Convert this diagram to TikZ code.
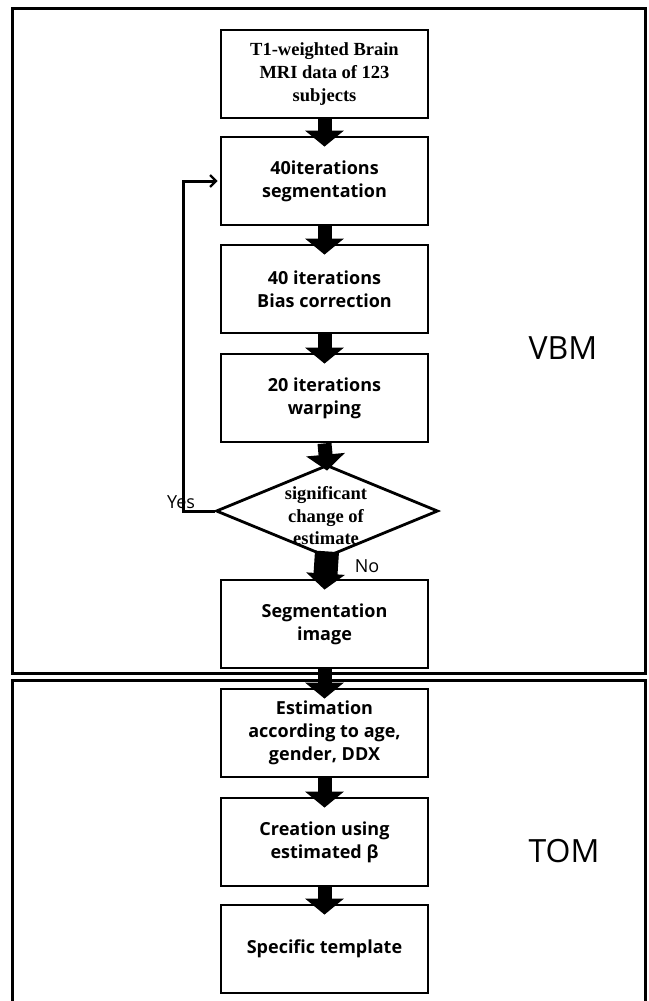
\documentclass[tikz,border=0pt]{standalone}
\usepackage{fontspec}
\setmainfont{Liberation Serif}
\setsansfont{Open Sans}
\usetikzlibrary{arrows.meta,shapes.geometric}
\begin{document}
\begin{tikzpicture}[x=1pt,y=-1pt,
  box/.style={draw, line width=2.8pt, minimum width=207pt, minimum height=88pt, inner sep=0pt, align=center, font=\sffamily\bfseries\fontsize{18}{23}\selectfont},
  serifbox/.style={box, font=\rmfamily\bfseries\fontsize{18.5}{23}\selectfont},
  frameline/.style={line width=3pt},
  blockarrow/.style={line width=14pt, -{Triangle[width=38pt,length=16pt]}},
  widearrow/.style={line width=24pt, -{Triangle[width=38pt,length=16pt]}},
  loopline/.style={line width=3pt, -{Straight Barb[length=6pt,width=12pt,line width=2.2pt]}},
  biglabel/.style={font=\sffamily\fontsize{32}{36}\selectfont},
  smalllabel/.style={font=\sffamily\fontsize{18}{20}\selectfont}
]
\useasboundingbox (0,0) rectangle (648,1001);
\fill[white] (0,0) rectangle (648,1001);

% frames
\draw[frameline] (12,8) rectangle (645,673);
\draw[frameline] (12,1001) -- (12,680) -- (645,680) -- (645,1001);

% boxes
\node[serifbox] (b1) at (324.5,74) {T1-weighted Brain\\MRI data of 123\\subjects};
\node[box] (b2) at (324.5,181) {40iterations\\segmentation};
\node[box] (b3) at (324.5,289) {40 iterations\\Bias correction};
\node[box] (b4) at (324.5,398) {20 iterations\\warping};
\node[draw, diamond, line width=2.8pt, minimum width=222pt, minimum height=92pt, inner sep=0pt] (dia) at (327,511) {};
\node[align=center, font=\rmfamily\bfseries\fontsize{18.5}{22.5}\selectfont] (dtext) at (326,516) {significant\\change of\\estimate};
\node[box] (seg) at (324.5,624) {Segmentation\\image};
\node[box] (est) at (324.5,733) {Estimation\\according to age,\\gender, DDX};
\node[box] (cre) at (324.5,842) {Creation using\\estimated β};
\node[box] (spe) at (324.5,949) {Specific template};

% arrows
\draw[blockarrow] (b1.south) -- ([yshift=-11pt]b2.north);
\draw[blockarrow] (b2.south) -- ([yshift=-11pt]b3.north);
\draw[blockarrow] (b3.south) -- ([yshift=-11pt]b4.north);
\draw[blockarrow] (b4.south) -- ([yshift=-7pt]dia.north);
\draw[widearrow] ([yshift=7pt]dia.south) -- ([yshift=-11pt]seg.north);
\draw[blockarrow] (seg.south) -- ([yshift=-11pt]est.north);
\draw[blockarrow] (est.south) -- ([yshift=-11pt]cre.north);
\draw[blockarrow] (cre.south) -- ([yshift=-11pt]spe.north);

% loop back
\coordinate (lc) at (183,511);
\draw[loopline] (dia.west) -- (lc) |- ([xshift=-2pt]b2.west);

% labels
\node[smalllabel] (yes) at (181,502) {Yes};
\node[smalllabel] (no) at (367,566) {No};
\node[biglabel] (vbm) at (563,348) {VBM};
\node[biglabel] (tom) at (564,851) {TOM};
\end{tikzpicture}
\end{document}
